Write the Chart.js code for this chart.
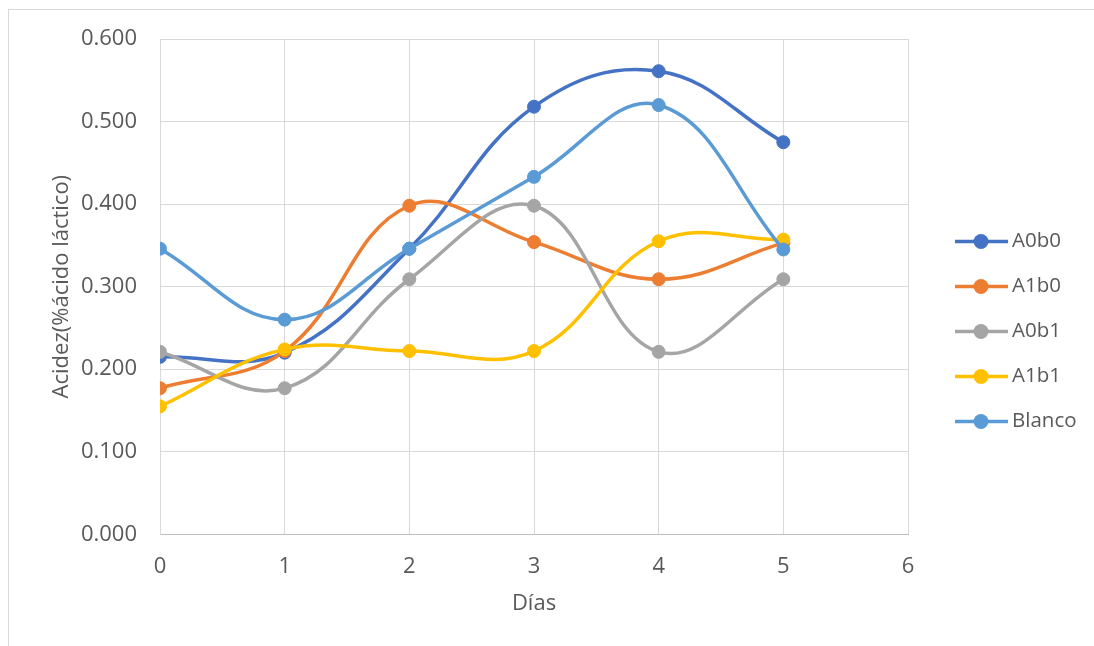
<!DOCTYPE html>
<html>
<head>
<meta charset="utf-8">
<script src="https://cdn.jsdelivr.net/npm/chart.js@4/dist/chart.umd.min.js"></script>
<style>
  html, body { margin: 0; padding: 0; background: #fff; overflow: hidden; }
  #wrap { position: relative; width: 1094px; height: 646px; }
  #frame { position: absolute; left: 8px; top: 9px; width: 1100px; height: 700px; border: 1px solid #d9d9d9; box-sizing: border-box; }
  canvas { position: absolute; left: 0; top: 0; }
</style>
</head>
<body>
<div id="wrap">
  <div id="frame"></div>
  <canvas id="c" width="1094" height="646"></canvas>
</div>
<script>
// Días de almacenamiento
const days = [0, 1, 2, 3, 4, 5];

// Acidez (% ácido láctico) por tratamiento
const A0b0 = [0.215, 0.220, 0.346, 0.518, 0.561, 0.475];
const A1b0 = [0.177, 0.222, 0.398, 0.354, 0.309, 0.353];
const A0b1 = [0.221, 0.177, 0.309, 0.398, 0.221, 0.309];
const A1b1 = [0.155, 0.224, 0.222, 0.222, 0.355, 0.357];
const Blanco = [0.346, 0.260, 0.346, 0.433, 0.520, 0.345];

const seriesNames = ['A0b0', 'A1b0', 'A0b1', 'A1b1', 'Blanco'];
const seriesValues = [A0b0, A1b0, A0b1, A1b1, Blanco];
const seriesColors = ['#4472C4', '#ED7D31', '#A5A5A5', '#FFC000', '#5B9BD5'];

const yTicks = [0, 0.1, 0.2, 0.3, 0.4, 0.5, 0.6];
const xTicks = [0, 1, 2, 3, 4, 5, 6];

const FONT = "'Open Sans', 'Noto Sans', sans-serif";
const TEXT = '#595959';

const datasets = seriesNames.map((name, i) => ({
  label: name,
  data: days.map((d, j) => ({ x: d, y: seriesValues[i][j] })),
  borderColor: seriesColors[i],
  backgroundColor: seriesColors[i],
  pointBackgroundColor: seriesColors[i],
  pointBorderColor: seriesColors[i],
  pointRadius: 6.5,
  pointBorderWidth: 1,
  borderWidth: 3.5,
  tension: 0.4,
  fill: false,
  order: seriesNames.length - i   // later series painted on top
}));

// Legend on the right: line with a round marker, then the series name
const sideLegend = {
  id: 'sideLegend',
  afterDraw(chart) {
    const ctx = chart.ctx;
    const rowTop = 241.5, rowGap = 45;
    ctx.save();
    chart.data.datasets.forEach((ds, i) => {
      const y = rowTop + i * rowGap;
      ctx.strokeStyle = ds.borderColor;
      ctx.lineWidth = 3.5;
      ctx.lineCap = 'butt';
      ctx.beginPath();
      ctx.moveTo(955, y);
      ctx.lineTo(1008, y);
      ctx.stroke();
      ctx.fillStyle = ds.borderColor;
      ctx.beginPath();
      ctx.arc(981, y, 7.5, 0, Math.PI * 2);
      ctx.fill();
      ctx.fillStyle = TEXT;
      ctx.font = '20.5px ' + FONT;
      ctx.textAlign = 'left';
      ctx.textBaseline = 'middle';
      ctx.fillText(ds.label, 1012, y);
    });
    ctx.restore();
  }
};

new Chart(document.getElementById('c'), {
  type: 'line',
  data: { datasets },
  plugins: [sideLegend],
  options: {
    responsive: false,
    animation: false,
    events: [],
    layout: { padding: { left: 0, top: 39, right: 186, bottom: 0 } },
    plugins: { legend: { display: false }, tooltip: { enabled: false } },
    scales: {
      x: {
        type: 'linear',
        min: xTicks[0],
        max: xTicks[xTicks.length - 1],
        afterBuildTicks: (s) => { s.ticks = xTicks.map(v => ({ value: v })); },
        afterFit: (s) => { s.height = 111.7; },
        grid: { color: '#d9d9d9', lineWidth: 1, drawTicks: false },
        border: { color: '#bfbfbf', width: 1 },
        ticks: { color: TEXT, font: { family: FONT, size: 22 }, padding: 19, maxRotation: 0,
                 callback: (v) => String(v) },
        title: { display: true, text: 'Días', color: TEXT, font: { family: FONT, size: 22 },
                 padding: { top: 0, bottom: 29 } }
      },
      y: {
        type: 'linear',
        min: yTicks[0],
        max: yTicks[yTicks.length - 1],
        afterBuildTicks: (s) => { s.ticks = yTicks.map(v => ({ value: v })); },
        afterFit: (s) => { s.width = 160; },
        grid: { color: '#d9d9d9', lineWidth: 1, drawTicks: false },
        border: { color: '#d9d9d9', width: 1 },
        ticks: { color: TEXT, font: { family: FONT, size: 22 }, padding: 23,
                 callback: (v) => Number(v).toFixed(3) },
        title: { display: true, text: 'Acidez(%ácido láctico)', color: TEXT,
                 font: { family: FONT, size: 22 }, padding: { top: 49, bottom: 0 } }
      }
    }
  }
});
</script>
</body>
</html>
